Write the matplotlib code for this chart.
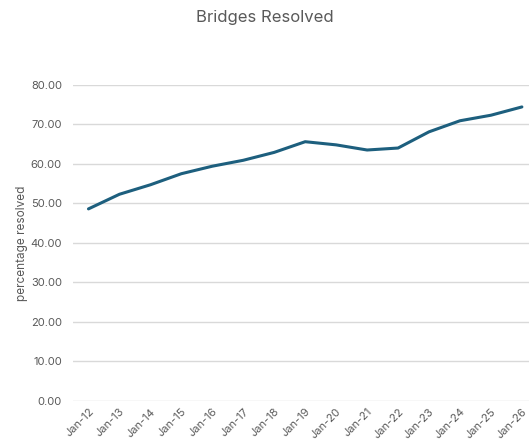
import matplotlib
matplotlib.use('Agg')
import matplotlib.pyplot as plt

plt.rcParams['font.family'] = ['Inter', 'DejaVu Sans']

months = ['Jan-12', 'Jan-13', 'Jan-14', 'Jan-15', 'Jan-16', 'Jan-17', 'Jan-18', 'Jan-19',
          'Jan-20', 'Jan-21', 'Jan-22', 'Jan-23', 'Jan-24', 'Jan-25', 'Jan-26']
resolved = [48.6, 52.3, 54.7, 57.5, 59.4, 60.9, 62.9, 65.6,
            64.8, 63.5, 64.0, 68.1, 70.9, 72.3, 74.4]

fig = plt.figure(figsize=(5.29, 4.44), dpi=100)
ax = fig.add_axes([0.138, 0.097, 0.862, 0.712])

x = list(range(len(months)))
ax.plot(x, resolved, color='#1d5f7e', linewidth=2.2, solid_capstyle='round')

ax.set_ylim(0, 80)
ax.set_xlim(-0.5, 14.23)
ax.set_yticks([0, 10, 20, 30, 40, 50, 60, 70, 80])
ax.set_yticklabels(['%.2f' % v for v in ax.get_yticks()])
ax.set_xticks(x)
ax.set_xticklabels(months, rotation=45, ha='right', rotation_mode='anchor')

ax.grid(axis='y', color='#d9d9d9', linewidth=1)
ax.set_axisbelow(True)
for s in ax.spines.values():
    s.set_visible(False)
ax.tick_params(length=0, colors='#595959', labelsize=8)
ax.tick_params(axis='y', pad=8)
ax.tick_params(axis='x', pad=4)

ax.set_ylabel('percentage resolved', color='#595959', fontsize=8.5, labelpad=2)
fig.text(0.5, 0.96, 'Bridges Resolved', ha='center', va='center', fontsize=12, color='#595959')

plt.savefig('out.png', dpi=100)
